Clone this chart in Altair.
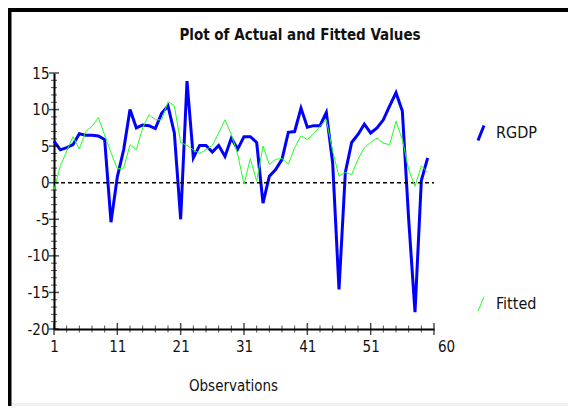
import altair as alt
import pandas as pd

# ---- data ----
observations = list(range(1, 61))
rgdp = [5.7, 4.5, 4.8, 5.2, 6.7, 6.5, 6.5, 6.4, 5.9, -5.4,
        0.8, 4.5, 10.0, 7.5, 7.9, 7.8, 7.4, 9.5, 10.5, 6.8,
        -5.0, 13.9, 3.4, 5.1, 5.1, 4.2, 5.1, 3.6, 6.1, 4.6,
        6.3, 6.3, 5.5, -2.8, 0.9, 1.8, 3.2, 6.9, 7.0, 10.2,
        7.6, 7.8, 7.8, 9.6, 2.7, -14.6, 1.4, 5.5, 6.6, 8.0,
        6.8, 7.5, 8.6, 10.5, 12.3, 9.8, -5.0, -17.7, 0.3, 3.4]
fitted = [-1.0, 2.3, 4.3, 6.3, 4.6, 7.0, 7.7, 8.9, 6.5, 4.1,
          1.9, 2.0, 5.2, 4.5, 7.5, 9.3, 8.6, 8.6, 11.1, 10.5,
          5.5, 5.1, 4.5, 4.0, 4.5, 5.1, 6.8, 8.6, 6.6, 3.9,
          -0.2, 3.3, 0.2, 5.0, 2.5, 3.2, 3.3, 2.5, 4.8, 6.4,
          5.9, 6.7, 7.7, 8.6, 4.3, 0.9, 1.4, 1.1, 3.2, 4.8,
          5.5, 6.1, 5.4, 5.2, 8.4, 5.9, 1.8, -0.5, 2.3, 1.4]
series_names = ["RGDP", "Fitted"]
series_colors = ["#0000ff", "#22ff22"]
x_tick_values = [1, 11, 21, 31, 41, 51, 61]
y_tick_values = [-20, -15, -10, -5, 0, 5, 10, 15]
X_MIN, X_MAX = 1, 61
Y_MIN, Y_MAX = -20, 15
TITLE = "Plot of Actual and Fitted Values"

FONT = "DejaVu Sans Condensed, DejaVu Sans, sans-serif"

df = pd.DataFrame({
    "obs": observations * 2,
    "value": rgdp + fitted,
    "series": ["RGDP"] * len(rgdp) + ["Fitted"] * len(fitted),
})

x_minor = [v for v in range(X_MIN, X_MAX + 1, 2) if v not in x_tick_values]
y_minor = [v for v in range(Y_MIN, Y_MAX + 1) if v not in y_tick_values]

xscale = alt.Scale(domain=[X_MIN, X_MAX], nice=False, zero=False)
yscale = alt.Scale(domain=[Y_MIN, Y_MAX], nice=False, zero=False)

x_axis = alt.Axis(values=x_tick_values,
                  labelExpr="datum.value == 61 ? '60' : '' + datum.value",
                  labelOffset={"condition": {"test": "datum.value == 61", "value": 12}, "value": 0},
                  ticks=False, tickSize=0, grid=False, labelOverlap=False,
                  domainColor="black", domainWidth=2,
                  labelFont=FONT, labelFontSize=15, labelColor="#111111",
                  labelPadding=10, labelFlush=False,
                  title="Observations", titleFont=FONT, titleFontSize=15,
                  titleFontWeight="normal", titleColor="#111111",
                  titleX=179, titleY=56, titleBaseline="middle", titleAlign="center")
y_axis = alt.Axis(values=y_tick_values, ticks=False, tickSize=0, grid=False,
                  labelExpr="'' + datum.value", labelOverlap=False,
                  domainColor="black", domainWidth=2,
                  labelFont=FONT, labelFontSize=15, labelColor="#111111",
                  labelPadding=5, labelFlush=False, title=None)


def X(field=None, datum=None):
    if datum is not None:
        return alt.X(datum=datum, type="quantitative", scale=xscale, axis=x_axis)
    return alt.X(field, type="quantitative", scale=xscale, axis=x_axis)


def Y(field=None, datum=None):
    if datum is not None:
        return alt.Y(datum=datum, type="quantitative", scale=yscale, axis=y_axis)
    return alt.Y(field, type="quantitative", scale=yscale, axis=y_axis)


color_enc = alt.Color("series:N",
                      scale=alt.Scale(domain=series_names, range=series_colors),
                      legend=alt.Legend(title=None, orient="none", legendX=418, legendY=51,
                                        rowPadding=147, symbolType="M-0.4,1L0.4,-1",
                                        symbolSize=225, symbolStrokeWidth=2,
                                        labelFont=FONT, labelFontSize=16,
                                        labelColor="#111111", labelOffset=6))
width_enc = alt.StrokeWidth("series:N",
                            scale=alt.Scale(domain=series_names, range=[3, 1]),
                            legend=alt.Legend(title=None))

base = alt.Chart(df)

rgdp_line = base.transform_filter(alt.datum.series == "RGDP").mark_line().encode(
    x=X("obs"), y=Y("value"), color=color_enc, strokeWidth=width_enc)
fit_line = base.transform_filter(alt.datum.series == "Fitted").mark_line().encode(
    x=X("obs"), y=Y("value"), color=color_enc, strokeWidth=width_enc)

zero_line = alt.Chart(pd.DataFrame({"a": [X_MIN]})).mark_rule(
    color="black", strokeDash=[4, 3], strokeWidth=1.5).encode(
    x=X(datum=X_MIN), x2=alt.X2(datum=X_MAX), y=Y(datum=0))

xt_major = alt.Chart(pd.DataFrame({"v": x_tick_values})).mark_tick(
    orient="vertical", size=12, thickness=1.5, color="black").encode(
    x=X("v"), y=Y(datum=Y_MIN))
xt_minor = alt.Chart(pd.DataFrame({"v": x_minor})).mark_tick(
    orient="vertical", size=7, thickness=1, color="black").encode(
    x=X("v"), y=Y(datum=Y_MIN))
yt_major = alt.Chart(pd.DataFrame({"v": y_tick_values})).mark_tick(
    orient="horizontal", size=10, thickness=1.5, color="black").encode(
    y=Y("v"), x=X(datum=X_MIN))
yt_minor = alt.Chart(pd.DataFrame({"v": y_minor})).mark_tick(
    orient="horizontal", size=6, thickness=1, color="black").encode(
    y=Y("v"), x=X(datum=X_MIN))

# title as a text mark (placed above the plot)
title_mark = alt.Chart(pd.DataFrame({"t": [TITLE]})).mark_text(
    font=FONT, fontSize=15, fontWeight="bold", color="#111111",
    align="center", baseline="middle").encode(
    text="t:N", x=alt.value(246), y=alt.value(-38))

# window frame decorations
frame_left = alt.Chart(pd.DataFrame({"a": [0]})).mark_rule(color="black", strokeWidth=4).encode(
    x=alt.value(-44.5), y=alt.value(-65), y2=alt.value(333))
frame_top = alt.Chart(pd.DataFrame({"a": [0]})).mark_rule(color="black", strokeWidth=4).encode(
    x=alt.value(-46), x2=alt.value(514), y=alt.value(-63))
band = alt.Chart(pd.DataFrame({"a": [0]})).mark_rule(color="#f0f0f0", strokeWidth=4).encode(
    x=alt.value(-42), x2=alt.value(514), y=alt.value(332))

chart = alt.layer(
    band, frame_left, frame_top, title_mark,
    rgdp_line, zero_line, fit_line,
    xt_major, xt_minor, yt_major, yt_minor,
).properties(
    width=380, height=256,
    background="white",
    autosize=alt.AutoSizeParams(type="none"),
    padding={"left": 46, "top": 65, "right": 134, "bottom": 77},
).configure_view(strokeWidth=0)

chart.save("out.html", embed_options={"renderer": "svg", "actions": False})
